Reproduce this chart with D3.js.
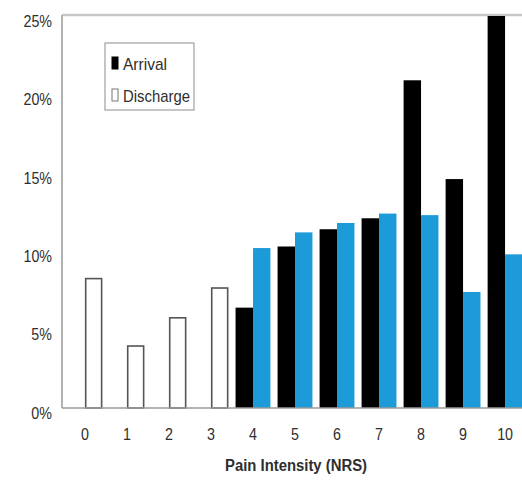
<!DOCTYPE html>
<html>
<head>
<meta charset="utf-8">
<script src="https://cdn.jsdelivr.net/npm/d3@7"></script>
<style>
  html, body { margin: 0; padding: 0; background: #fff; }
  svg text { font-family: "Liberation Sans", Arial, sans-serif; fill: #2e2e2e; }
</style>
</head>
<body>
<svg id="chart" width="522" height="480"></svg>
<script>
const categories = ["0","1","2","3","4","5","6","7","8","9","10"];
const seriesNames = ["Arrival","Discharge"];
const arrival   = [0, 0, 0, 0, 6.4, 10.3, 11.4, 12.1, 20.9, 14.6, 25.0];
const discharge = [8.3, 4.0, 5.8, 7.7, 10.2, 11.2, 11.8, 12.4, 12.3, 7.4, 9.8];
const yTicks = [0, 5, 10, 15, 20, 25];
const xTitle = "Pain Intensity (NRS)";

const svg = d3.select("#chart");
const mLeft = 62, mRight = 522, mTop = 16, mBottom = 408;
const narrow = 0.84;

const x = d3.scaleBand().domain(categories).range([46.5, 543.5]).paddingInner(0.17).paddingOuter(0.5);
const xs = d3.scaleBand().domain(seriesNames).range([0, x.bandwidth()]);
const y = d3.scaleLinear().domain([0, 25]).range([mBottom, mTop]);

// frame line at top
svg.append("line").attr("x1", mLeft).attr("x2", mRight).attr("y1", mTop - 1).attr("y2", mTop - 1)
  .attr("stroke", "#c8c8c8").attr("stroke-width", 2.5);

const rows = categories.map((c, i) => ({c, a: arrival[i], d: discharge[i]}));

const g = svg.append("g");
const groups = g.selectAll("g.grp").data(rows).join("g").attr("class", "grp")
  .attr("transform", d => `translate(${x(d.c)},0)`);

groups.filter(d => d.a > 0).append("rect")
  .attr("x", xs("Arrival")).attr("width", xs.bandwidth())
  .attr("y", d => y(d.a)).attr("height", d => y(0) - y(d.a))
  .attr("fill", "#000");

groups.append("rect")
  .attr("x", d => xs("Discharge") + (d.a > 0 ? 0 : 0.75))
  .attr("width", d => xs.bandwidth() - (d.a > 0 ? 0 : 1.5))
  .attr("y", d => y(d.d) + (d.a > 0 ? 0 : 0.75))
  .attr("height", d => y(0) - y(d.d) - (d.a > 0 ? 0 : 0.75))
  .attr("fill", d => d.a > 0 ? "#1d9ad8" : "#fff")
  .attr("stroke", d => d.a > 0 ? "none" : "#555")
  .attr("stroke-width", 1.6);

// axes
svg.append("line").attr("x1", mLeft).attr("x2", mLeft).attr("y1", mTop - 1).attr("y2", mBottom)
  .attr("stroke", "#9a9a9a").attr("stroke-width", 1.5);
svg.append("line").attr("x1", mLeft).attr("x2", mRight).attr("y1", mBottom).attr("y2", mBottom)
  .attr("stroke", "#9a9a9a").attr("stroke-width", 1.5);

const yAxis = svg.append("g").attr("transform", `translate(${mLeft},0)`)
  .call(d3.axisLeft(y).tickValues(yTicks).tickFormat(d => d + "%").tickSize(0).tickPadding(10));
yAxis.select(".domain").remove();
yAxis.selectAll("text").attr("font-size", 17).attr("dy", "0.6em").attr("font-family", null)
  .attr("x", -10 / narrow).attr("transform", `scale(${narrow},1)`);

const xAxis = svg.append("g").attr("transform", `translate(0,${mBottom})`)
  .call(d3.axisBottom(x).tickSize(0).tickPadding(20));
xAxis.select(".domain").remove();
xAxis.selectAll("text").attr("font-size", 17).attr("font-family", null)
  .attr("transform", `scale(${narrow},1)`);

svg.append("text").attr("x", 296).attr("y", 471).attr("text-anchor", "middle")
  .attr("font-size", 16).attr("font-weight", "bold")
  .attr("textLength", 142).attr("lengthAdjust", "spacingAndGlyphs").text(xTitle);

// legend
const lg = svg.append("g").attr("transform", "translate(105,43)");
lg.append("rect").attr("width", 89).attr("height", 67).attr("fill", "#fff")
  .attr("stroke", "#a0a0a0").attr("stroke-width", 1.2);
const legendFill = {Arrival: "#000", Discharge: "#fff"};
const legendLen = {Arrival: 44, Discharge: 67};
seriesNames.forEach((s, i) => {
  const yy = 14 + i * 32;
  lg.append("rect").attr("x", 7).attr("y", yy).attr("width", 6).attr("height", 12)
    .attr("fill", legendFill[s]).attr("stroke", s === "Arrival" ? "#000" : "#777").attr("stroke-width", 1);
  lg.append("text").attr("x", 18).attr("y", yy + 13).attr("font-size", 17)
    .attr("textLength", legendLen[s]).attr("lengthAdjust", "spacingAndGlyphs").text(s);
});
</script>
</body>
</html>
